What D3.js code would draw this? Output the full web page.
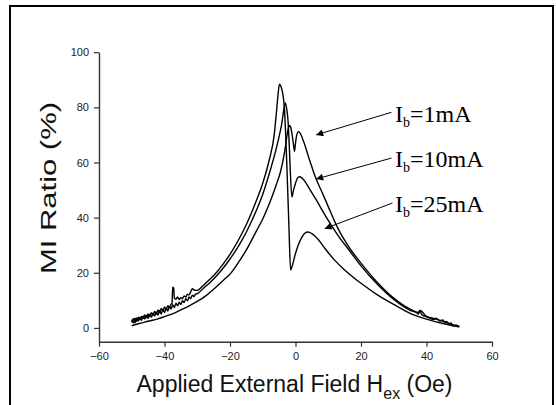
<!DOCTYPE html>
<html>
<head>
<meta charset="utf-8">
<script src="https://cdn.jsdelivr.net/npm/d3@7.9.0/dist/d3.min.js"></script>
<style>
  body { margin: 0; background: #fff; }
  svg { display: block; font-family: Arial, 'Liberation Sans', sans-serif; }
</style>
</head>
<body>
<svg id="chart" width="556" height="405"></svg>
<script>
// MI ratio (%) vs applied field (Oe)
const field1mA = [-50, -48, -45, -42, -40, -37, -35, -32, -30, -27, -25, -22, -20, -17, -15, -12, -10, -8, -6, -4.5, -3.3, -2.5, -2.1, -1.8, -1.4, -0.9, -0.5, -0.3, -0.1, 0.3, 0.9, 1.5, 2.5, 4, 6.3, 8, 10, 13, 16.5, 20, 25, 30, 35, 37.5, 38, 40, 43, 45, 47, 48, 49, 50];
const ratio1mA = [0.8, 1.5, 2.4, 3.3, 4.1, 5.4, 6.5, 8.3, 9.6, 12, 14, 17.3, 19.5, 24.5, 28.3, 35, 39.5, 45, 51.5, 57, 64, 70.5, 72.8, 73.4, 72.5, 69, 65.5, 64, 66, 69.5, 71.2, 70.5, 67.5, 62, 54, 49.5, 44, 36, 29, 23.5, 16.5, 10.8, 6.8, 5.6, 6.3, 4.2, 3.2, 2.4, 1.6, 1.2, 0.7, 0.5];

const field10mA = [-50, -49.5, -49, -48.5, -48, -47.5, -47, -46.5, -46, -45.5, -45, -44.5, -44, -43.5, -43, -42.5, -42, -41.5, -41, -40.5, -40, -39.5, -39, -38.5, -38, -37.5, -37, -36.5, -36, -35.5, -35, -34.5, -34, -33.5, -33, -32.5, -32, -31.5, -31, -30.5, -30, -28, -26, -24, -22, -20, -17, -15, -12, -10, -8, -6, -5, -4.2, -3.6, -3.1, -2.7, -2.3, -1.9, -1.6, -1.1, -0.7, 0, 0.6, 1.2, 2, 3, 4, 6.3, 8, 10, 13, 16.5, 20, 25, 30, 35, 37, 37.5, 38, 38.5, 40, 41, 42, 43, 44, 45, 45.5, 46, 47, 47.5, 48, 49, 50];
const ratio10mA = [2.0, 3.3, 1.9, 3.6, 2.5, 3.9, 2.8, 4.3, 3.2, 4.6, 3.5, 5.0, 3.9, 5.3, 4.3, 5.8, 4.6, 6.3, 5.0, 6.8, 5.6, 7.2, 6.1, 7.8, 6.8, 8.4, 7.4, 9.0, 8.0, 9.3, 8.5, 9.9, 9.2, 10.6, 9.8, 11.2, 10.6, 11.9, 11.4, 12.3, 12.4, 14.5, 16.6, 19, 21.8, 25, 30.5, 34.8, 42.5, 48.5, 56, 64.5, 69.5, 74, 79, 81.6, 79.5, 75.4, 66, 57.2, 47.5, 49.5, 52.5, 54.3, 54.8, 54.3, 53, 51, 46.5, 43, 39, 33.5, 28, 22.5, 15.8, 10.3, 6.4, 5.5, 5.0, 6.2, 4.9, 4.0, 3.6, 3.1, 3.5, 2.5, 2.9, 2.1, 2.3, 1.4, 1.8, 0.8, 1.1, 0.4];

const field25mA = [-50, -49.5, -49, -48.5, -48, -47.5, -47, -46.5, -46, -45.5, -45, -44.5, -44, -43.5, -43, -42.5, -42, -41.5, -41, -40.5, -40, -39.5, -39, -38.5, -38, -37.7, -37.5, -37.2, -37, -36.5, -36, -35.5, -35, -34.5, -34, -33.5, -33, -32.5, -32, -31.5, -31, -30.5, -30, -28, -26, -24, -22, -20, -17, -15, -12, -10, -8, -6.5, -5.8, -5.3, -4.9, -4.4, -3.9, -3.4, -2.7, -2.0, -1.5, -1.0, 0, 1, 2, 3, 3.8, 5, 7, 9, 12, 15, 18, 20, 25, 30, 35, 40, 45, 48, 50];
const ratio25mA = [3.0, 1.8, 3.5, 2.4, 3.9, 2.9, 4.2, 3.4, 4.7, 3.7, 5.1, 4.1, 5.5, 4.6, 6.0, 5.0, 6.5, 5.5, 7.1, 6.0, 7.6, 6.6, 8.1, 7.3, 8.6, 9.0, 14.8, 14.5, 11.0, 10.4, 11.2, 10.3, 11.0, 10.6, 11.6, 11.2, 12.2, 12.0, 13.1, 14.2, 13.8, 13.6, 13.6, 15.6, 17.8, 20.3, 23.3, 26.7, 32.8, 37.5, 46, 52.5, 61, 70, 78.5, 85, 88.4, 87.5, 85, 80, 61, 36.5, 21, 22.5, 27, 30.5, 33, 34.5, 34.8, 34.2, 32, 28.8, 24.5, 21, 18, 16.2, 12, 8.5, 5.3, 3.2, 1.6, 0.8, 0.4];

const seriesNames = ['1mA', '10mA', '25mA'];
// arrow tail and tip in data units (Oe, %)
const arrowFrom = [[29.3, 78.2], [29.3, 61.6], [29.6, 45.3]];
const arrowTo = [[6.3, 70], [6.3, 54], [8.9, 36]];

const xTicks = [-60, -40, -20, 0, 20, 40, 60];
const xMinor = [-50, -30, -10, 10, 30, 50];
const yTicks = [0, 20, 40, 60, 80, 100];
const yMinor = [10, 30, 50, 70, 90];

const svg = d3.select('#chart');

// outer frame (bottom edge is cut off in the original)
svg.append('rect')
  .attr('x', 10).attr('y', 6)
  .attr('width', 543).attr('height', 480)
  .attr('fill', 'none')
  .attr('stroke', '#000')
  .attr('stroke-width', 2);

const x = d3.scaleLinear().domain([-60, 60]).range([99, 492]);
const y = d3.scaleLinear().domain([-5, 100]).range([341.7, 52.2]);

const axisColor = '#333';

// x axis
const gx = svg.append('g').attr('transform', `translate(0,${y(-5)})`);
gx.call(d3.axisBottom(x).tickValues(xMinor).tickSize(3).tickSizeOuter(0).tickFormat(''));
gx.call(d3.axisBottom(x).tickValues(xTicks).tickSize(5).tickSizeOuter(0).tickPadding(6));

// y axis
const gy = svg.append('g').attr('transform', `translate(${x(-60)},0)`);
gy.call(d3.axisLeft(y).tickValues(yMinor).tickSize(3).tickSizeOuter(0).tickFormat(''));
gy.call(d3.axisLeft(y).tickValues(yTicks).tickSize(5).tickSizeOuter(0).tickPadding(5));

svg.selectAll('.domain').attr('stroke', axisColor).attr('stroke-width', 1.4);
svg.selectAll('.tick line').attr('stroke', axisColor).attr('stroke-width', 1.2);
svg.selectAll('.tick text')
  .attr('fill', '#222')
  .style('font-size', '11px')
  .style('font-family', 'Arial, "Liberation Sans", sans-serif');

// curves
const line = d3.line()
  .x((d) => x(d[0]))
  .y((d) => y(d[1]))
  .curve(d3.curveMonotoneX);

const series = [
  d3.zip(field1mA, ratio1mA),
  d3.zip(field10mA, ratio10mA),
  d3.zip(field25mA, ratio25mA),
];

svg.append('g')
  .selectAll('path')
  .data(series)
  .join('path')
  .attr('d', line)
  .attr('fill', 'none')
  .attr('stroke', '#000')
  .attr('stroke-width', 1.4)
  .attr('stroke-linejoin', 'round');

// arrow head marker
svg.append('defs')
  .append('marker')
  .attr('id', 'head')
  .attr('viewBox', '0 0 10 10')
  .attr('refX', 10).attr('refY', 5)
  .attr('markerWidth', 9).attr('markerHeight', 7)
  .attr('markerUnits', 'userSpaceOnUse')
  .attr('orient', 'auto')
  .append('path')
  .attr('d', 'M0,0 L10,5 L0,10 Z')
  .attr('fill', '#000');

svg.append('g')
  .selectAll('line')
  .data(seriesNames)
  .join('line')
  .attr('x1', (d, i) => x(arrowFrom[i][0]))
  .attr('y1', (d, i) => y(arrowFrom[i][1]))
  .attr('x2', (d, i) => x(arrowTo[i][0]))
  .attr('y2', (d, i) => y(arrowTo[i][1]))
  .attr('stroke', '#000')
  .attr('stroke-width', 1)
  .attr('marker-end', 'url(#head)');

// labels I_b=...
const labelY = [122, 166.5, 211.5];
const labels = svg.append('g')
  .selectAll('text')
  .data(seriesNames)
  .join('text')
  .attr('x', 395)
  .attr('y', (d, i) => labelY[i])
  .style('font-family', '"Times New Roman", "Liberation Serif", serif')
  .style('font-size', '24px')
  .attr('fill', '#000');
labels.append('tspan').text('I');
labels.append('tspan').attr('dy', 5).style('font-size', '14px').text('b');
labels.append('tspan').attr('dy', -5).text((d) => '=' + d);

// axis titles
const xt = svg.append('text')
  .attr('x', 136.5)
  .attr('y', 391.5)
  .style('font-size', '23px')
  .attr('fill', '#111');
xt.append('tspan').text('Applied External Field H');
xt.append('tspan').attr('dy', 7).style('font-size', '16px').text('ex');
xt.append('tspan').attr('dy', -7).text(' (Oe)');

svg.append('text')
  .attr('transform', 'translate(56,188) rotate(-90)')
  .attr('text-anchor', 'middle')
  .attr('textLength', 172)
  .attr('lengthAdjust', 'spacingAndGlyphs')
  .style('font-size', '22px')
  .attr('fill', '#111')
  .text('MI Ratio (%)');
</script>
</body>
</html>
